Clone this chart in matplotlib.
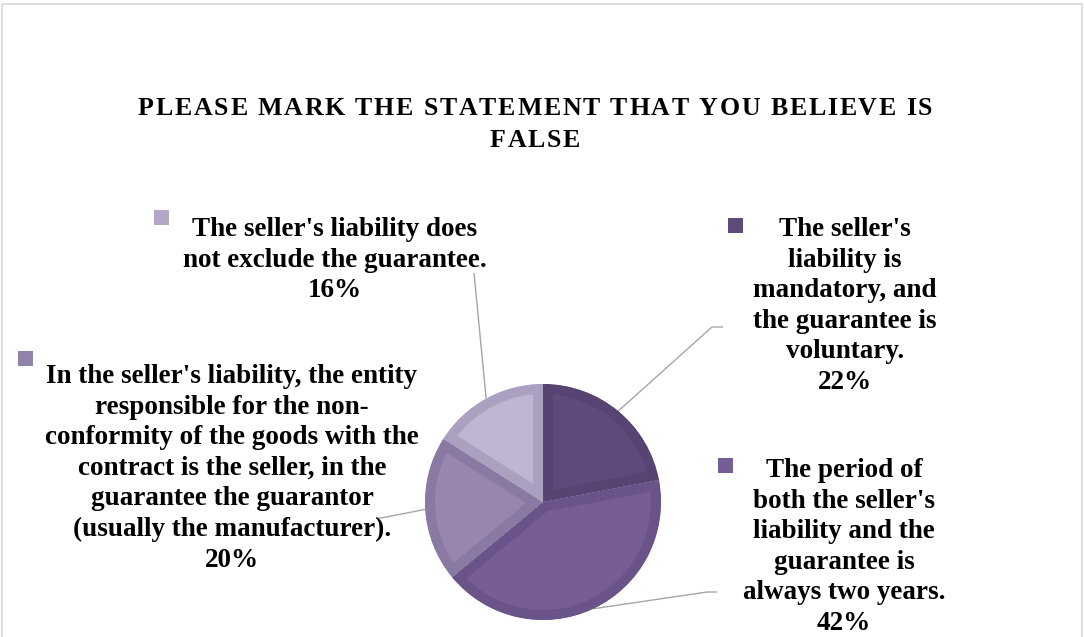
import numpy as np
import matplotlib
matplotlib.use("Agg")
import matplotlib.pyplot as plt
from matplotlib import font_manager
from matplotlib.ft2font import FT2Font
from matplotlib.patches import Rectangle

W, H = 1084, 637
SERIF = "Liberation Serif"

TITLE_LINES = ["PLEASE MARK THE STATEMENT THAT YOU BELIEVE IS", "FALSE"]

# slices, clockwise from 12 o'clock
SHARES = [22, 42, 20, 16]
LABELS = [
    "The seller's\nliability is\nmandatory, and\nthe guarantee is\nvoluntary.",
    "The period of\nboth the seller's\nliability and the\nguarantee is\nalways two years.",
    "In the seller's liability, the entity\nresponsible for the non-\nconformity of the goods with the\n"
    "contract is the seller, in the\nguarantee the guarantor\n(usually the manufacturer).",
    "The seller's liability does\nnot exclude the guarantee.",
]
FILL_COLORS = ["#5f4b7b", "#765d96", "#9886b1", "#c0b6d1"]
RIM_COLORS = ["#574473", "#6a5388", "#8a79a3", "#aba0bf"]
SQUARE_COLORS = ["#5e4a7b", "#755d95", "#9282aa", "#b2a8c5"]

# label layout in pixels: text centre x, first baseline y, legend square top-left
LABEL_X = [845, 844, 232, 335]
LABEL_BASE = [236, 477, 383, 236]
SQUARE_XY = [(728, 218), (718, 458), (18, 351), (154, 210)]
# leader line knees (after leaving the slice edge)
LEADERS = [
    [(712, 327), (723, 327)],
    [(707, 592), (717, 592)],
    [(381, 518), (378, 518)],
    [(474, 273)],
]

CENTER = (543, 502)
RADIUS = 118
LINE_PITCH = 30.6


def tracked_line(ax, text, xc, baseline, size, tracking):
    """Bold serif line with extra letter spacing, centred on xc."""
    prop = font_manager.FontProperties(family=SERIF, weight="bold", size=size)
    font = FT2Font(font_manager.findfont(prop))
    font.set_size(size, 100)
    advances = [font.load_char(ord(c)).linearHoriAdvance / 65536 for c in text]
    total = sum(advances) + tracking * (len(text) - 1)
    x = xc - total / 2
    for c, adv in zip(text, advances):
        if c != " ":
            ax.text(x, baseline, c, fontproperties=prop, ha="left", va="baseline",
                    color="black")
        x += adv + tracking


fig = plt.figure(figsize=(W / 100, H / 100), dpi=100)
ax = fig.add_axes([0, 0, 1, 1])

# y axis runs downwards, so counterclock=True turns clockwise on screen
wedges, _ = ax.pie(SHARES, colors=FILL_COLORS, startangle=-90, counterclock=True,
                   center=CENTER, radius=RADIUS)
for wedge, rim in zip(wedges, RIM_COLORS):
    # thick rim clipped to the slice itself -> inset border
    wedge.set_edgecolor(rim)
    wedge.set_linewidth(14.4)
    wedge.set_clip_on(True)
    wedge.set_clip_path(wedge)

ax.set_xlim(0, W)
ax.set_ylim(H, 0)
ax.set_aspect("equal")
ax.axis("off")

for i, wedge in enumerate(wedges):
    mid = np.deg2rad((wedge.theta1 + wedge.theta2) / 2)
    start = (CENTER[0] + RADIUS * np.cos(mid), CENTER[1] + RADIUS * np.sin(mid))
    pts = [start] + LEADERS[i]
    ax.plot([p[0] for p in pts], [p[1] for p in pts], color="#a6a6a6", lw=1.0,
            solid_capstyle="butt", zorder=0)

    lines = LABELS[i].split("\n") + [f"{SHARES[i]}%"]
    for k, line in enumerate(lines):
        ax.text(LABEL_X[i], LABEL_BASE[i] + k * LINE_PITCH, line, ha="center",
                va="baseline", family=SERIF, weight="bold", fontsize=19.5)
    sx, sy = SQUARE_XY[i]
    ax.add_patch(Rectangle((sx, sy), 14.5, 14.5, color=SQUARE_COLORS[i], lw=0))

tracked_line(ax, TITLE_LINES[0], 535, 115, 18.6, 1.8)
tracked_line(ax, TITLE_LINES[1], 535, 147, 18.6, 1.8)

ax.add_patch(Rectangle((1.5, 3.5), 1080, 640, fill=False, ec="#d9d9d9", lw=1.2))

fig.savefig("out.png", dpi=100)
